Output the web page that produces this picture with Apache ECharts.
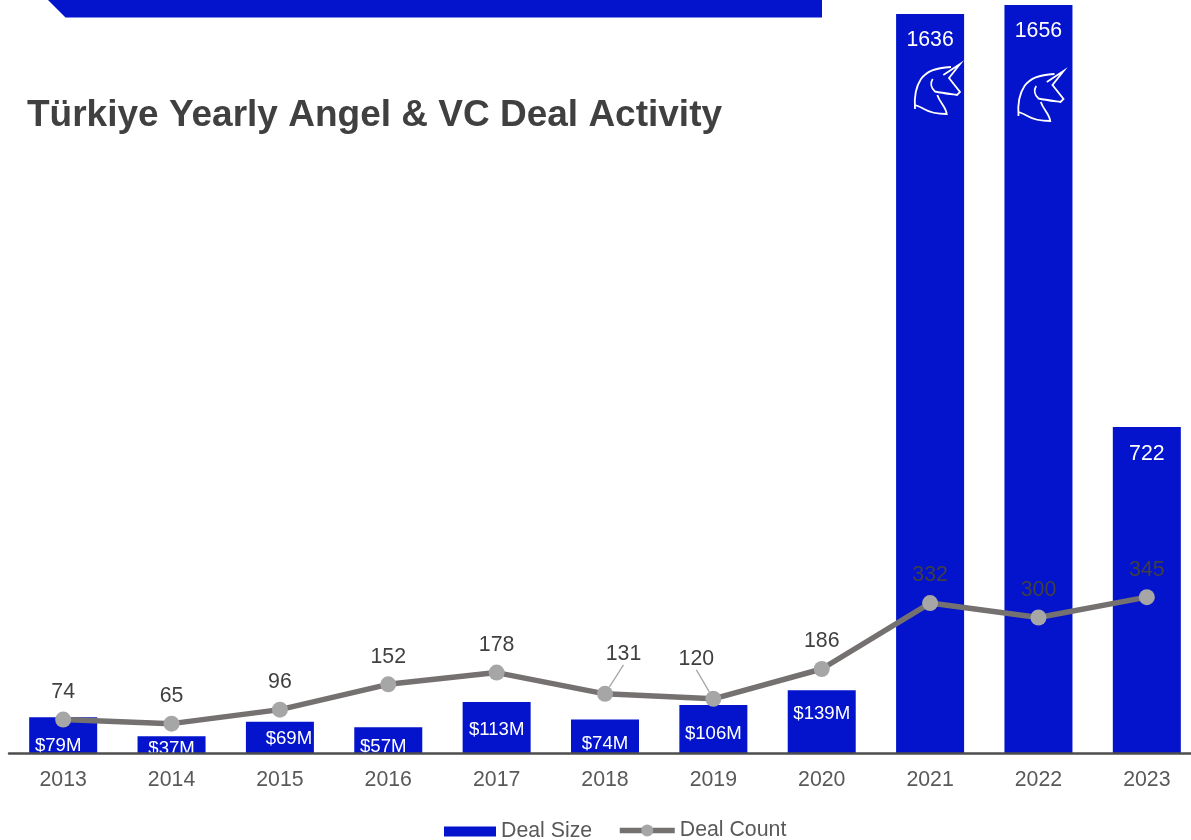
<!DOCTYPE html>
<html><head><meta charset="utf-8">
<style>html,body{margin:0;padding:0;background:#fff;overflow:hidden}#c{width:1201px;height:840px}</style>
<script src="https://cdn.jsdelivr.net/npm/echarts@6/dist/echarts.min.js"></script>
</head><body><div id="c"></div>
<script>
const years = ['2013','2014','2015','2016','2017','2018','2019','2020','2021','2022','2023'];
const dealSize = [79,37,69,57,113,74,106,139,1636,1656,722];
const dealCount = [74,65,96,152,178,131,120,186,332,300,345];
const sizeLabels = ['$79M','$37M','$69M','$57M','$113M','$74M','$106M','$139M','1636','1656','722'];
const titleText = 'Türkiye Yearly Angel & VC Deal Activity';

const FONT = '"Liberation Sans", Arial, sans-serif';
const BLUE = '#0314CC';
const barLabelOffset = [[-5,19],[0,3],[9,8],[-5,10],[0,18],[0,15],[0,19],[0,14],[0,16],[0,16],[0,17]];
const barLabelSize = [18.6,18.6,18.6,18.6,18.6,18.6,18.6,18.6,21.3,21.3,21.3];
const countLabelShift = {5:[18.5,-12],6:[-17,-12]};
const unicornPath = 'M35 109C34 97 35 88 41 79C47 71 55 68 71 67M63.3 75L80 64L69 78L80 92L77 95C70 94 62 93 55 91.5C51 88 50 83 52.7 79M57.3 95C60 103 66 107 66.7 114C58 114 50 112.7 44 109C41 107 38 106 35 105';
const unicornPlaces = [[880,0],[983.5,7]];

echarts.graphic.registerShape('unicorn', echarts.graphic.extendPath(unicornPath, {}));

const chart = echarts.init(document.getElementById('c'), null, {renderer:'canvas'});
chart.setOption({
  animation:false,
  backgroundColor:'#fff',
  textStyle:{fontFamily:FONT},
  title:{text:titleText,left:22,top:92,textStyle:{fontFamily:FONT,fontSize:37,fontWeight:'bold',color:'#404040'}},
  legend:[
    {left:439,top:816,itemWidth:52,itemHeight:10,icon:'rect',
     textStyle:{fontFamily:FONT,fontSize:21.3,color:'#595959'},
     data:['Deal Size']},
    {left:612,top:815,itemWidth:55,itemHeight:15,
     textStyle:{fontFamily:FONT,fontSize:21.3,color:'#595959'},
     data:[{name:'Deal Count',lineStyle:{width:5.5}}]}
  ],
  grid:{left:9,right:0,top:3.2,bottom:87},
  xAxis:{type:'category',data:years,z:3,
    axisLine:{lineStyle:{color:'#4d4d4d',width:2.5}},
    axisTick:{show:false},
    axisLabel:{fontSize:21.3,color:'#595959',margin:17,fontFamily:FONT}},
  yAxis:{type:'value',min:0,max:1660,show:false,splitLine:{show:false}},
  series:[
    {name:'Deal Size',type:'bar',barWidth:68,z:2,itemStyle:{color:BLUE},
     data:dealSize.map((v,i)=>({value:v,label:{show:true,position:'insideTop',distance:0,
       formatter:sizeLabels[i],color:'#fff',fontSize:barLabelSize[i],fontFamily:FONT,
       offset:barLabelOffset[i]}}))},
    {name:'Deal Count',type:'line',z:4,symbol:'circle',symbolSize:16,
     lineStyle:{color:'#767171',width:5.5},itemStyle:{color:'#A6A6A6'},
     label:{show:true,position:'top',distance:9,color:'#404040',fontSize:21.3,fontFamily:FONT},
     labelLine:{show:false},
     labelLayout:p=>{const s=countLabelShift[p.dataIndex];return s?{dx:s[0],dy:s[1]}:{};},
     data:dealCount.map((v,i)=>countLabelShift[i]?{value:v,labelLine:{show:true,lineStyle:{color:'#A6A6A6',width:1.3}}}:v)}
  ],
  graphic:[
    {type:'polygon',z:10,shape:{points:[[48,0],[65.5,17.5],[822,17.5],[822,0]]},style:{fill:BLUE}},
    ...unicornPlaces.map(p=>({type:'unicorn',z:10,x:p[0],y:p[1],
      style:{fill:null,stroke:'#fff',lineWidth:1.8}}))
  ]
});
</script></body></html>
